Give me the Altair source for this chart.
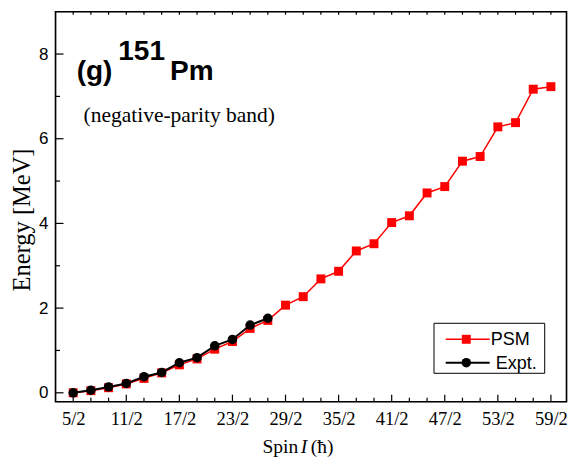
import altair as alt
import pandas as pd

# ---------------- data ----------------
spin_num = [5, 7, 9, 11, 13, 15, 17, 19, 21, 23, 25, 27, 29, 31, 33, 35, 37, 39,
            41, 43, 45, 47, 49, 51, 53, 55, 57, 59]          # spin = num/2
psm = [0.00, 0.05, 0.12, 0.21, 0.34, 0.47, 0.66, 0.80, 1.03, 1.21, 1.52, 1.71,
       2.07, 2.27, 2.69, 2.87, 3.35, 3.52, 4.02, 4.18, 4.72, 4.87, 5.47, 5.58,
       6.28, 6.38, 7.17, 7.23]
expt_num = [5, 7, 9, 11, 13, 15, 17, 19, 21, 23, 25, 27]
expt = [0.00, 0.06, 0.14, 0.22, 0.38, 0.48, 0.71, 0.83, 1.11, 1.26, 1.60, 1.76]

x_major_num = [5, 11, 17, 23, 29, 35, 41, 47, 53, 59]
x_minor_num = [n for n in spin_num if n not in x_major_num]
y_major = [0, 2, 4, 6, 8]
y_minor = [1, 3, 5, 7]

series_names = ["PSM", "Expt."]
series_colors = ["#FF0000", "#000000"]
title_parts = ["(g)", "151", "Pm"]
subtitle = "(negative-parity band)"
x_title_parts = ["Spin", "I", "(\u0127)"]
y_title = "Energy [MeV]"

W, H = 511, 390
xscale = alt.Scale(domain=[1.5, 30.38], nice=False, zero=False)
yscale = alt.Scale(domain=[-0.21, 9.0], nice=False, zero=False)

df_psm = pd.DataFrame({"spin": [n / 2 for n in spin_num], "E": psm})
df_exp = pd.DataFrame({"spin": [n / 2 for n in expt_num], "E": expt})

x_axis = alt.Axis(values=[n / 2 for n in x_major_num],
                  labelExpr="format(datum.value*2,'d') + '/2'",
                  labelFont="Liberation Serif", labelFontSize=18.5, labelColor="black",
                  labelPadding=8, ticks=False, tickSize=0, domain=False, grid=False,
                  labelFlush=False, labelOverlap=False, title=None)
y_axis = alt.Axis(values=y_major, format="d",
                  labelFont="Liberation Sans", labelFontSize=17, labelColor="black",
                  labelPadding=7.5, ticks=False, tickSize=0, domain=False, grid=False,
                  labelFlush=False, labelOverlap=False, title=None)

X = lambda f: alt.X(f, scale=xscale, axis=x_axis)
Y = lambda f: alt.Y(f, scale=yscale, axis=y_axis)

psm_line = alt.Chart(df_psm).mark_line(color=series_colors[0], strokeWidth=1.5).encode(
    x=X("spin:Q"), y=Y("E:Q"))
psm_pts = alt.Chart(df_psm).mark_point(shape="square", filled=True, size=80,
                                       color=series_colors[0], opacity=1).encode(
    x=X("spin:Q"), y=Y("E:Q"))
exp_line = alt.Chart(df_exp).mark_line(color=series_colors[1], strokeWidth=2).encode(
    x=X("spin:Q"), y=Y("E:Q"))
exp_pts = alt.Chart(df_exp).mark_point(shape="circle", filled=True, size=90,
                                       color=series_colors[1], opacity=1).encode(
    x=X("spin:Q"), y=Y("E:Q"))

# ---------------- frame and inward ticks ----------------
one = pd.DataFrame({"a": [0]})
frame = alt.Chart(one).mark_rect(fill=None, stroke="black", strokeWidth=1.6).encode(
    x=alt.value(0), x2=alt.value(W), y=alt.value(0), y2=alt.value(H))

def xticks(nums, y0, y1):
    d = pd.DataFrame({"v": [n / 2 for n in nums]})
    return alt.Chart(d).mark_rule(color="black", strokeWidth=1.2).encode(
        x=X("v:Q"), y=alt.value(y0), y2=alt.value(y1))

def yticks(vals, x0, x1):
    d = pd.DataFrame({"v": vals})
    return alt.Chart(d).mark_rule(color="black", strokeWidth=1.2).encode(
        y=Y("v:Q"), x=alt.value(x0), x2=alt.value(x1))

ticks = [xticks(x_major_num, H, H - 7), xticks(x_minor_num, H, H - 4),
         xticks(x_major_num + x_minor_num, 0, 3),
         yticks(y_major, 0, 8), yticks(y_minor, 0, 4.5)]

# ---------------- texts ----------------
def txt(s, x, y, **kw):
    return alt.Chart(pd.DataFrame({"t": [s]})).mark_text(**kw).encode(
        text="t:N", x=alt.value(x), y=alt.value(y))

bold = dict(font="Liberation Sans", fontWeight="bold", fontSize=28, align="left",
            baseline="alphabetic", color="black")
serif = dict(font="Liberation Serif", align="left", baseline="alphabetic", color="black")
xt_y = 441.3
texts = [
    txt(title_parts[0], 21.2, 68.3, **bold),
    txt(title_parts[1], 62.8, 48.3, **bold),
    txt(title_parts[2], 114.5, 68.3, **bold),
    txt(subtitle, 28, 110.3, fontSize=21.5, **serif),
    txt(y_title, -33, 208.3, font="Liberation Serif", fontSize=24.5, align="center",
        baseline="middle", angle=270, color="black"),
    txt(x_title_parts[0], 207, xt_y, fontSize=19.5, **serif),
    txt(x_title_parts[1], 245.3, xt_y, fontSize=19.5, fontStyle="italic", **serif),
    txt(x_title_parts[2], 255.3, xt_y, fontSize=19.5, **serif),
]

# ---------------- legend ----------------
lx = -6  # legend shift to follow the slightly narrower plot
legend_box = alt.Chart(one).mark_rect(fill="white", stroke="black", strokeWidth=1).encode(
    x=alt.value(384.5 + lx), x2=alt.value(495.2 + lx), y=alt.value(311.6), y2=alt.value(361.6))
legend = [legend_box]
for i, (name, col) in enumerate(zip(series_names, series_colors)):
    yy = 327.6 + i * 23.4
    legend.append(alt.Chart(one).mark_rule(color=col, strokeWidth=1.5 if i == 0 else 2).encode(
        x=alt.value(396.2 + lx), x2=alt.value(440.2 + lx), y=alt.value(yy)))
    legend.append(alt.Chart(one).mark_point(
        shape="square" if i == 0 else "circle", filled=True, opacity=1,
        size=80 if i == 0 else 90, color=col).encode(x=alt.value(416.8 + lx), y=alt.value(yy)))
    legend.append(txt(name, (441.2 if i == 0 else 446.2) + lx, yy + 5.9, font="Liberation Sans",
                      fontSize=18, align="left", baseline="alphabetic", color="black"))

chart = alt.layer(psm_line, psm_pts, exp_line, exp_pts, frame, *ticks, *texts, *legend).properties(
    width=W, height=H,
    autosize=alt.AutoSizeParams(type="none"),
    padding={"left": 47.5, "top": 3.7, "right": 1.5, "bottom": 57},
).configure_view(stroke=None).configure(background="white")

chart.save("out.html", embed_options={"renderer": "svg", "actions": False})
